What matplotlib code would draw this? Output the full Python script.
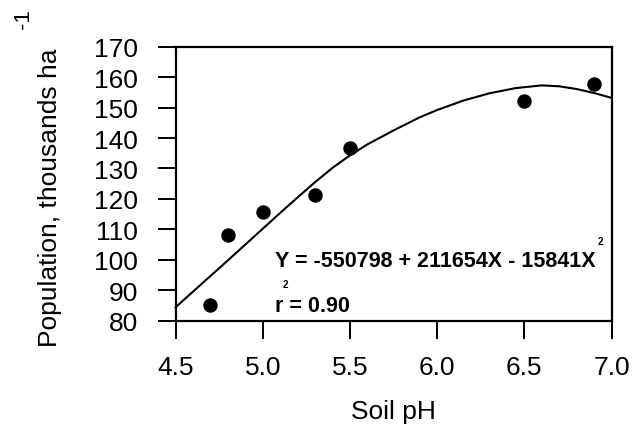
import matplotlib
matplotlib.use("Agg")
import matplotlib.pyplot as plt

# Observed data points
ph = [4.7, 4.8, 5.0, 5.3, 5.5, 6.5, 6.9]
population = [85.2, 108.2, 115.7, 121.4, 136.8, 152.1, 157.9]

# Fitted curve
curve_x = [4.5, 4.8, 5.1, 5.2, 5.3, 5.4, 5.5, 5.6, 5.75, 5.9, 6.0, 6.15,
           6.3, 6.45, 6.6, 6.7, 6.8, 6.9, 7.0]
curve_y = [84.4, 99.8, 115.4, 120.5, 125.5, 130.2, 134.3, 137.9, 142.5, 146.8,
           149.2, 152.3, 154.7, 156.4, 157.3, 157.0, 156.1, 154.8, 153.2]

xticks = [4.5, 5.0, 5.5, 6.0, 6.5, 7.0]
xticklabels = ["4.5", "5.0", "5.5", "6.0", "6.5", "7.0"]
yticks = [80, 90, 100, 110, 120, 130, 140, 150, 160, 170]

plt.rcParams['font.family'] = ['Liberation Sans', 'DejaVu Sans']

fig = plt.figure(figsize=(6.41, 4.39), dpi=100)
ax = fig.add_axes([0.2738, 0.2672, 0.954 - 0.2738, 0.8913 - 0.2672])

ax.plot(curve_x, curve_y, color='black', lw=1.5, solid_joinstyle='round', clip_on=False)
ax.scatter(ph, population, s=88, color='black', zorder=3, clip_on=False)

ax.set_xlim(4.5, 7.0)
ax.set_ylim(80, 170)
ax.set_xticks(xticks)
ax.set_xticklabels(xticklabels)
ax.set_yticks(yticks)

for s in ax.spines.values():
    s.set_linewidth(1.6)
ax.tick_params(axis='both', direction='out', length=13, width=1.4,
               labelsize=19, colors='black')
ax.tick_params(axis='x', pad=12)
ax.tick_params(axis='y', pad=14)

ax.set_xlabel("Soil pH", fontsize=19, labelpad=14)
fig.text(50 / 641, 1 - 198 / 439, "Population, thousands ha", rotation=90,
         fontsize=19, ha='center', va='center')
fig.text(24 / 641, 1 - 19 / 439, "-1", rotation=90, fontsize=16,
         ha='center', va='center')

# Equation annotation
fig.text(275 / 641, 1 - 266.7 / 439, "Y = -550798 + 211654X - 15841X",
         fontsize=15.5, fontweight='bold', ha='left', va='baseline')
fig.text(600 / 641, 1 - 241.7 / 439, "2", fontsize=7, fontweight='bold',
         ha='center', va='center')
fig.text(275 / 641, 1 - 311.7 / 439, "r = 0.90",
         fontsize=15.5, fontweight='bold', ha='left', va='baseline')
fig.text(285 / 641, 1 - 285 / 439, "2", fontsize=7, fontweight='bold',
         ha='center', va='center')

fig.savefig("out.png", dpi=100)
